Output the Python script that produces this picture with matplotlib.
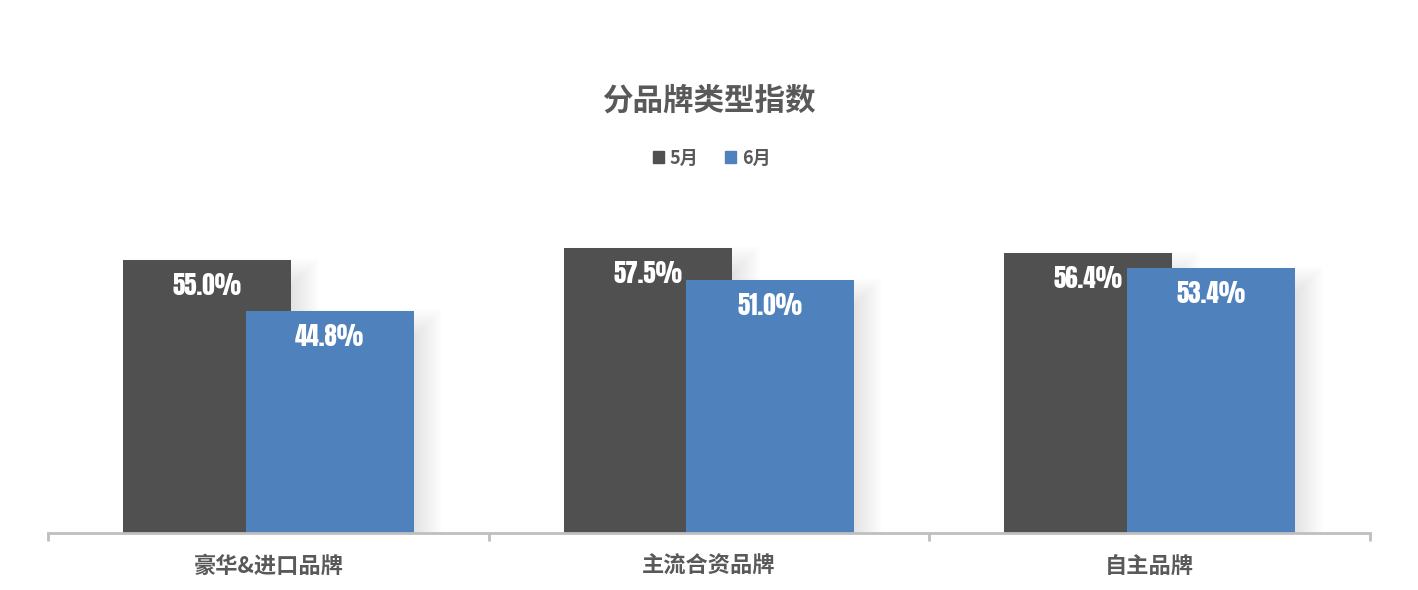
import matplotlib
matplotlib.use("Agg")
import matplotlib.pyplot as plt
from matplotlib import font_manager
from matplotlib.patches import Patch
import numpy as np

categories = ["豪华&进口品牌", "主流合资品牌", "自主品牌"]
may_vals = [55.0, 57.5, 56.4]
jun_vals = [44.8, 51.0, 53.4]
series_names = ["5月", "6月"]

DARK = "#505050"
BLUE = "#4F81BD"
TEXT = "#595959"
AXIS = "#BFBFBF"

plt.rcParams['font.family'] = ['Noto Sans CJK SC', 'DejaVu Sans']

# Impact-like face for the value labels
installed = set(f.name for f in font_manager.fontManager.ttflist)
num_font = 'DejaVu Sans'
for name in ['Impact', 'Anton', 'Oswald', 'Fjalla One', 'Archivo Narrow',
             'Roboto Condensed', 'Liberation Sans Narrow']:
    if name in installed:
        num_font = name
        break

fig = plt.figure(figsize=(14.18, 5.9), dpi=100)
H = 590.0
ax = fig.add_axes([48 / 1418, 57 / H, (1370 - 48) / 1418, 297.6 / H])

x = np.arange(len(categories))
w = 0.381
off = 0.139
px_x = 1 / 440.7   # data units per pixel
px_y = 1 / 4.96

# soft outer shadow, shifted right and down (stack of faint rectangles)
dx, dy = 12, 14
for e in range(-14, 17, 2):
    for xs, vals in ((x - off, may_vals), (x + off, jun_vals)):
        left = xs - w / 2 + max(dx - e, 4) * px_x
        right = xs + w / 2 + (dx + e) * px_x
        ax.bar(left, np.array(vals) + (e - dy) * px_y, right - left, align="edge",
               color="black", alpha=0.007, zorder=1, linewidth=0)

b1 = ax.bar(x - off, may_vals, w, color=DARK, zorder=2)
b2 = ax.bar(x + off, jun_vals, w, color=BLUE, zorder=3)

for bars, vals, z in ((b1, may_vals, 2.2), (b2, jun_vals, 3.2)):
    for r, v in zip(bars, vals):
        ax.text(r.get_x() + r.get_width() / 2, v - 5.1, "%.1f%%" % v,
                ha="center", va="center", color="white", fontsize=18,
                family=num_font, zorder=z)

ax.set_xlim(-0.5, 2.5)
ax.set_ylim(0, 60)
for s in ["top", "right", "left"]:
    ax.spines[s].set_visible(False)
ax.spines["bottom"].set_color(AXIS)
ax.spines["bottom"].set_linewidth(2)
ax.spines["bottom"].set_zorder(4)
ax.set_yticks([])
ax.set_xticks(x)
ax.set_xticklabels(categories, fontsize=16, fontweight="bold", color=TEXT)
ax.tick_params(axis="x", which="major", length=0, pad=16)
ax.set_xticks([-0.5, 0.5, 1.5, 2.5], minor=True)
ax.tick_params(axis="x", which="minor", length=6, width=2, color=AXIS)

fig.text(0.5, 1 - 101 / H, "分品牌类型指数", ha="center", va="center",
         fontsize=22, fontweight="bold", color=TEXT)

handles = [Patch(color=DARK), Patch(color=BLUE)]
fig.legend(handles, series_names, loc="center", bbox_to_anchor=(0.502, 1 - 158 / H),
           ncol=2, frameon=False, handlelength=0.6, handleheight=0.6,
           handletextpad=0.3, columnspacing=1.5,
           prop={'family': ['Noto Sans CJK SC', 'DejaVu Sans'], 'weight': 'bold', 'size': 13})
for t in fig.legends[0].get_texts():
    t.set_color(TEXT)

fig.savefig("out.png", dpi=100, facecolor="white")
